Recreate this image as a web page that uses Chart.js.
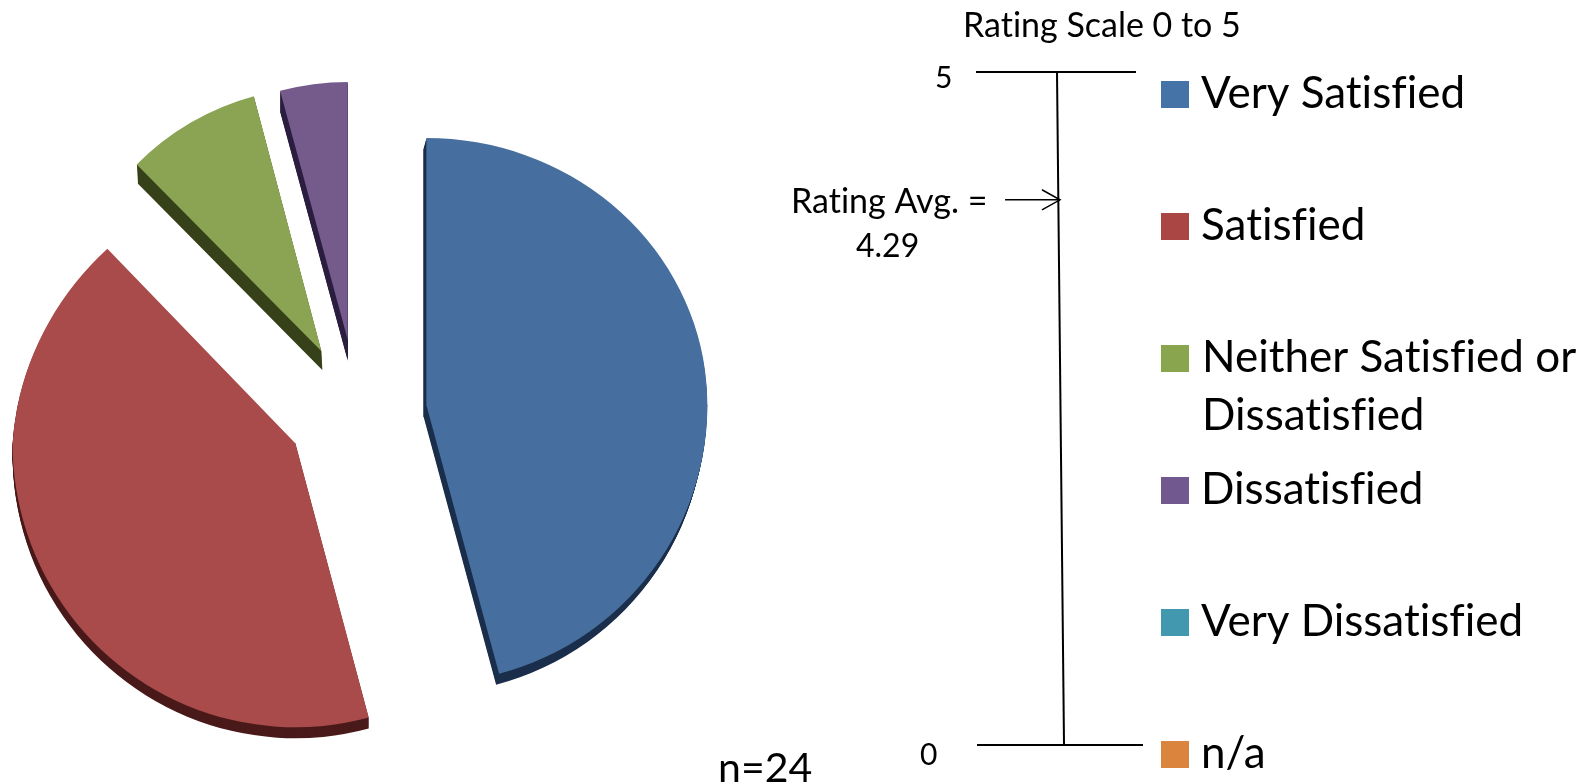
<!DOCTYPE html>
<html>
<head>
<meta charset="utf-8">
<script src="https://cdn.jsdelivr.net/npm/chart.js@4"></script>
<style>
  html, body { margin: 0; background: #fff; overflow: hidden; }
  canvas { position: absolute; left: 0; top: 0; }
</style>
</head>
<body>
<canvas id="pie" width="1593" height="784"></canvas>
<canvas id="scale" width="1593" height="784"></canvas>
<script>
// survey answers, 24 people
const categories = ["Very Satisfied", "Satisfied", "Neither Satisfied or Dissatisfied", "Dissatisfied", "Very Dissatisfied", "n/a"];
const responses = [11, 10, 2, 1, 0, 0];

// rating scale, y in rating units, x in 0-100 across the bracket
const ratingTicks = [0, 5];
const scaleLineX = [48.5, 52.7];
const scaleLineY = [5, 0];
const topBarX = [0, 95.8];
const bottomBarX = [0.6, 100];
const arrowX = [17.4, 50.3];
const arrowY = [4.05, 4.05];
const arrowHeadX = [39.5, 50.3, 39.5];
const arrowHeadY = [4.125, 4.05, 3.975];

// looks
const sliceColors = ["#466f9f", "#a84b4a", "#8aa453", "#745b8c", "#4198af", "#db843d"];
const legendColors = ["#4572a7", "#aa4643", "#89a54e", "#71588f", "#4198af", "#db843d"];
const sideColors = ["#1b2f4c", "#4a1a1a", "#374119", "#2c1f40", "#1d4a57", "#6e4016"];
const sideDepth = [11, 11, 19, 21, 0, 0];
const sideLean = [-3, 0, 1, 0, 0, 0];
// the original is a 3d pie in perspective, so each slice gets its own stretch
// above and below its tip
const stretchX = [1, 1.007, 0.93, 0.93, 1, 1];
const stretchUp = [0.95, 0.98, 0.94, 0.917, 1, 1];
const stretchDown = [0.99, 1.01, 1, 1, 1, 1];
const shearUp = [0, -0.06, 0, 0, 0, 0];
const nudgeX = [-1, 0, 0, 0, 0, 0];
const nudgeY = [3, -2, 0, -3, 0, 0];

const font = "Lato";
const explode = 71;
const tilt = 0.97;

function toPoints(xs, ys) {
    return xs.map(function (x, i) { return { x: x, y: ys[i] }; });
}

function text(ctx, str, x, y, size) {
    ctx.font = size + "px " + font;
    ctx.textRendering = "optimizeSpeed"; // no fi ligature
    ctx.fillStyle = "#000";
    ctx.textAlign = "left";
    ctx.textBaseline = "alphabetic";
    ctx.fillText(str, x, y);
}

// draw a slice twice, clipped at its tip, upper and lower part stretched apart
function paintSlice(ctx, el, arc, i, tipX, tipY) {
    const seam = Math.round(tipY);
    ctx.save();
    ctx.beginPath();
    ctx.rect(0, 0, 1593, seam + 1);
    ctx.clip();
    ctx.translate(tipX, tipY);
    ctx.transform(stretchX[i], 0, shearUp[i], stretchUp[i], 0, 0);
    ctx.translate(-arc.x, -arc.y);
    el.draw(ctx);
    ctx.restore();

    ctx.save();
    ctx.beginPath();
    ctx.rect(0, seam, 1593, 784 - seam);
    ctx.clip();
    ctx.translate(tipX, tipY);
    ctx.scale(stretchX[i], stretchDown[i]);
    ctx.translate(-arc.x, -arc.y);
    el.draw(ctx);
    ctx.restore();
}

// exploded slices with a dark side, chart.js offset grows the radius so move them here
const explodedPie = {
    id: "explodedPie",
    beforeDatasetDraw: function (chart) {
        const ctx = chart.ctx;
        const arcs = chart.getDatasetMeta(0).data;
        arcs.forEach(function (arc, i) {
            const mid = (arc.startAngle + arc.endAngle) / 2;
            const tipX = arc.x + Math.cos(mid) * explode + nudgeX[i];
            const tipY = arc.y + Math.sin(mid) * explode * tilt + nudgeY[i];
            const side = Object.create(arc);
            side.options = Object.assign({}, arc.options, { backgroundColor: sideColors[i], borderColor: sideColors[i] });
            for (let d = sideDepth[i]; d > 0; d--) {
                paintSlice(ctx, side, arc, i, tipX + sideLean[i] * d / sideDepth[i], tipY + d);
            }
            paintSlice(ctx, arc, arc, i, tipX, tipY);
        });
        return false;
    },
    afterDraw: function (chart) {
        const ctx = chart.ctx;
        categories.forEach(function (name, i) {
            const top = 81 + 132 * i;
            ctx.fillStyle = legendColors[i];
            ctx.fillRect(1161, top, 28, 27);
            if (name.length > 24) {
                const cut = name.indexOf("Dissatisfied");
                text(ctx, name.slice(0, cut).trim(), 1202, top + 27, 44);
                text(ctx, name.slice(cut), 1202, top + 85, 44);
            } else {
                text(ctx, name, 1201, top + 27, 44);
            }
        });
        text(ctx, "n=" + responses.reduce(function (a, b) { return a + b; }, 0), 718, 782, 41);
    }
};

new Chart($("pie"), {
    type: "pie",
    data: {
        labels: categories,
        datasets: [{ data: responses, backgroundColor: sliceColors, borderWidth: 0, clip: false }]
    },
    options: {
        responsive: false,
        animation: false,
        layout: { padding: { left: 76, right: 955, top: 130, bottom: 92 } },
        plugins: { legend: { display: false }, tooltip: { enabled: false } }
    },
    plugins: [explodedPie]
});

const scaleLabels = {
    id: "scaleLabels",
    afterDraw: function (chart) {
        const ctx = chart.ctx;
        const y = chart.scales.y;
        text(ctx, "Rating Scale 0 to 5", 963, 37, 34);
        text(ctx, String(ratingTicks[1]), 935, y.getPixelForValue(ratingTicks[1]) + 16, 30);
        text(ctx, String(ratingTicks[0]), 920, y.getPixelForValue(ratingTicks[0]) + 20, 30);
        text(ctx, "Rating Avg. =", 791, 213, 34);
        text(ctx, "4.29", 856, 257, 32);
    }
};

function lineSet(points, width) {
    return { data: points, showLine: true, borderColor: "#000", borderWidth: width, pointRadius: 0, fill: false, tension: 0, clip: false };
}

new Chart($("scale"), {
    type: "scatter",
    data: {
        datasets: [
            lineSet(toPoints(scaleLineX, scaleLineY), 2),
            lineSet(toPoints(topBarX, [ratingTicks[1], ratingTicks[1]]), 2),
            lineSet(toPoints(bottomBarX, [ratingTicks[0], ratingTicks[0]]), 2),
            lineSet(toPoints(arrowX, arrowY), 1.5),
            lineSet(toPoints(arrowHeadX, arrowHeadY), 1.5)
        ]
    },
    options: {
        responsive: false,
        animation: false,
        layout: { padding: { left: 976, right: 450, top: 72, bottom: 39 } },
        scales: {
            x: { display: false, min: 0, max: 100 },
            y: { display: false, min: 0, max: 5 }
        },
        plugins: { legend: { display: false }, tooltip: { enabled: false } }
    },
    plugins: [scaleLabels]
});

function $(id) { return document.getElementById(id); }
</script>
</body>
</html>
